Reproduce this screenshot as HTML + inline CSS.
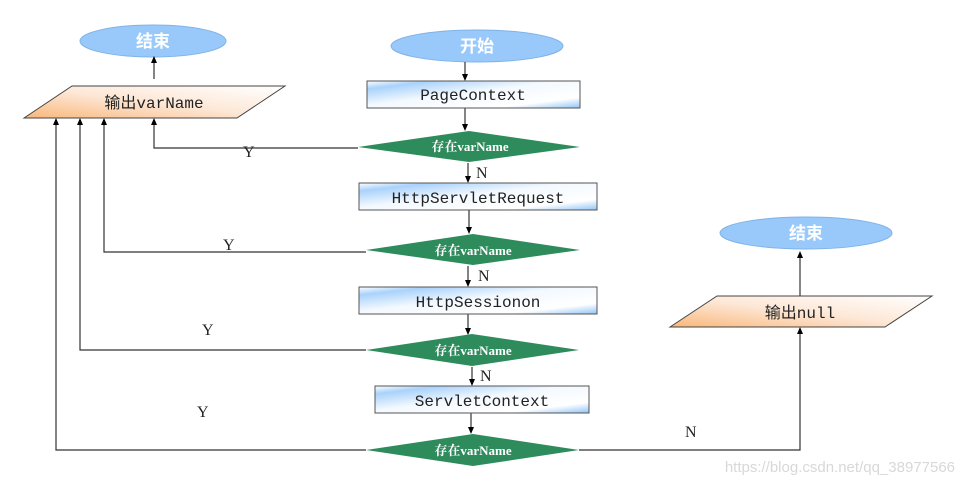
<!DOCTYPE html>
<html><head><meta charset="utf-8"><style>
html,body{margin:0;padding:0;background:#fff;width:965px;height:485px;overflow:hidden}
.m{font-family:"Liberation Mono","Noto Sans CJK SC",monospace}
.s{font-family:"Liberation Serif","Noto Serif CJK SC",serif}
.w{font-family:"Liberation Sans",sans-serif}
</style></head><body>
<svg width="965" height="485" viewBox="0 0 965 485" xmlns="http://www.w3.org/2000/svg">
<defs>
<linearGradient id="rb" x1="0" y1="0" x2="1" y2="1">
<stop offset="0" stop-color="#fff"/><stop offset="0.15" stop-color="#a9d2fb"/><stop offset="0.45" stop-color="#f3f9ff"/><stop offset="0.8" stop-color="#ffffff"/><stop offset="1" stop-color="#8fc3f6"/></linearGradient>
<linearGradient id="po" x1="0" y1="1" x2="1" y2="0">
<stop offset="0" stop-color="#f9b77a"/><stop offset="0.5" stop-color="#fde8d7"/><stop offset="1" stop-color="#fff"/></linearGradient>
</defs>
<g fill="#99c9fb" stroke="#7fb3e6" stroke-width="1">
<ellipse cx="153" cy="41" rx="73" ry="16"/>
<ellipse cx="477" cy="46" rx="86" ry="16"/>
<ellipse cx="806" cy="233" rx="86" ry="16"/>
</g>
<g class="m" fill="#fff" font-size="17" text-anchor="middle" font-weight="bold">
<text x="153" y="47">结束</text><text x="477" y="52">开始</text><text x="806" y="239">结束</text>
</g>
<g stroke="#333" stroke-width="1.2" fill="none">
<line x1="154" y1="79" x2="154" y2="62"/>
<line x1="465" y1="62" x2="465" y2="79"/>
<line x1="465" y1="108" x2="465" y2="129"/>
<polyline points="358,148 154,148 154,120"/>
<line x1="468" y1="163" x2="468" y2="181"/>
<line x1="469" y1="210" x2="469" y2="232"/>
<polyline points="366,252 104,252 104,120"/>
<line x1="468" y1="266" x2="468" y2="285"/>
<line x1="468" y1="314" x2="468" y2="333"/>
<polyline points="366,350 80,350 80,120"/>
<line x1="472" y1="367" x2="472" y2="384"/>
<line x1="471" y1="413" x2="471" y2="432"/>
<polyline points="366,450 56,450 56,120"/>
<polyline points="579,450 800,450 800,329"/>
<line x1="800" y1="296" x2="800" y2="254"/>
</g>
<g fill="#000">
<path d="M154,56 l-3,7 h6z"/><path d="M465,81 l-3,-7 h6z"/><path d="M465,131 l-3,-7 h6z"/>
<path d="M154,118 l-3,7 h6z"/><path d="M104,118 l-3,7 h6z"/><path d="M80,118 l-3,7 h6z"/><path d="M56,118 l-3,7 h6z"/>
<path d="M468,183 l-3,-7 h6z"/><path d="M469,234 l-3,-7 h6z"/><path d="M468,287 l-3,-7 h6z"/><path d="M468,335 l-3,-7 h6z"/>
<path d="M472,386 l-3,-7 h6z"/><path d="M471,434 l-3,-7 h6z"/><path d="M800,327 l-3,7 h6z"/><path d="M800,251 l-3,7 h6z"/>
</g>
<polygon points="24,118 72,86 285,86 237,118" fill="url(#po)" stroke="#444"/>
<polygon points="670,327 717,296 932,296 885,327" fill="url(#po)" stroke="#444"/>
<g class="m" font-size="16" fill="#222" text-anchor="middle">
<text x="154" y="108">输出varName</text>
<text x="800" y="318">输出null</text>
</g>
<g fill="url(#rb)" stroke="#555">
<rect x="367" y="81" width="213" height="27"/>
<rect x="359" y="183" width="238" height="27"/>
<rect x="359" y="287" width="238" height="27"/>
<rect x="375" y="386" width="214" height="27"/>
</g>
<g class="m" font-size="16" fill="#222" text-anchor="middle">
<text x="473" y="100">PageContext</text>
<text x="478" y="203">HttpServletRequest</text>
<text x="478" y="307">HttpSessionon</text>
<text x="482" y="406">ServletContext</text>
</g>
<g fill="#2e8b5c">
<polygon points="358,147 469,131 580,147 469,162"/>
<polygon points="366,250 473,234 580,250 473,265"/>
<polygon points="366,350 472,334 579,350 472,366"/>
<polygon points="366,450 473,434 579,450 473,466"/>
</g>
<g class="s" font-size="13" fill="#fff" text-anchor="middle" font-weight="bold">
<text x="470" y="151">存在varName</text>
<text x="473" y="255">存在varName</text>
<text x="473" y="355">存在varName</text>
<text x="473" y="455">存在varName</text>
</g>
<g class="s" font-size="16" fill="#222">
<text x="243" y="157">Y</text><text x="223" y="250">Y</text><text x="202" y="335">Y</text><text x="197" y="417">Y</text>
<text x="476" y="178">N</text><text x="478" y="281">N</text><text x="480" y="381">N</text><text x="685" y="437">N</text>
</g>
<text class="w" x="955" y="472" text-anchor="end" font-size="15" fill="#d8d8d8">https://blog.csdn.net/qq_38977566</text>
</svg>
</body></html>
